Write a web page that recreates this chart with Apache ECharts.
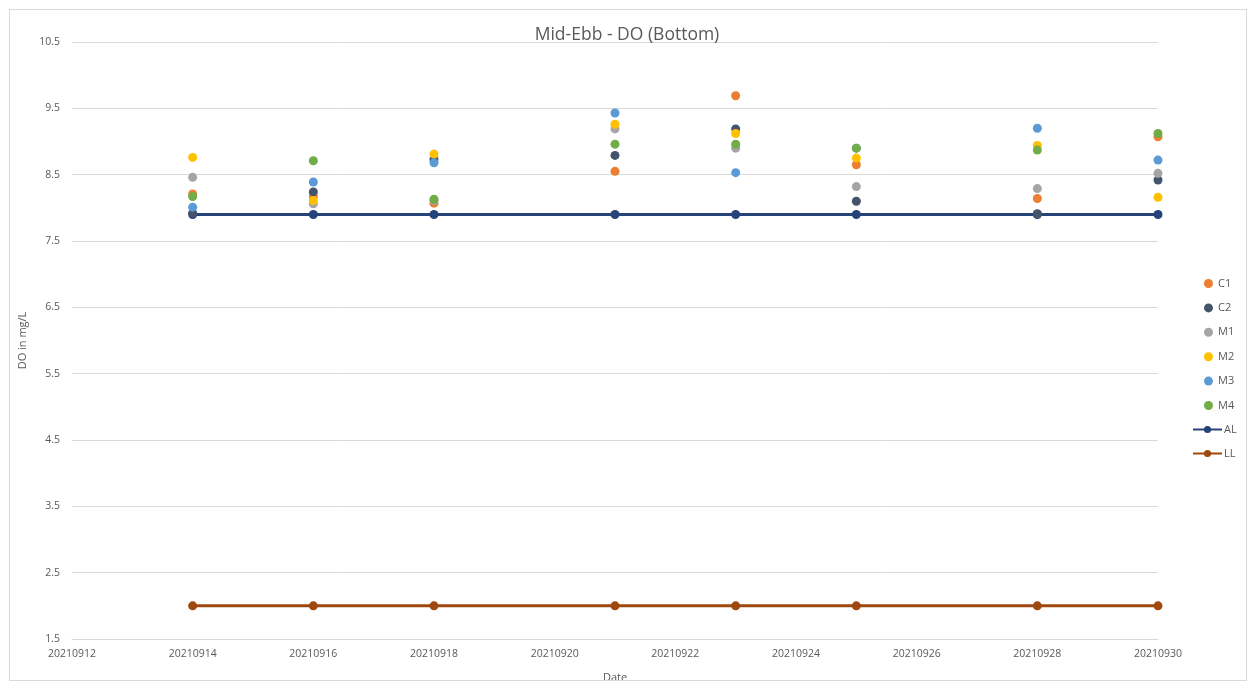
<!DOCTYPE html>
<html><head><meta charset="utf-8">
<script src="https://cdn.jsdelivr.net/npm/echarts@6/dist/echarts.min.js"></script>
<style>html,body{margin:0;padding:0;background:#fff}#c{width:1254px;height:688px}</style>
</head><body><div id="c"></div>
<script>
const dates = [20210914, 20210916, 20210918, 20210921, 20210923, 20210925, 20210928, 20210930];
const C1 = [8.21, 8.17, 8.07, 8.55, 9.69, 8.65, 8.14, 9.07];
const C2 = [7.92, 8.24, 8.73, 8.79, 9.19, 8.10, 7.91, 8.42];
const M1 = [8.46, 8.06, 8.11, 9.19, 8.90, 8.32, 8.29, 8.52];
const M2 = [8.76, 8.11, 8.81, 9.26, 9.12, 8.75, 8.94, 8.16];
const M3 = [8.01, 8.39, 8.68, 9.43, 8.53, 8.90, 9.20, 8.72];
const M4 = [8.17, 8.71, 8.13, 8.96, 8.96, 8.90, 8.87, 9.12];
const AL = [7.9, 7.9, 7.9, 7.9, 7.9, 7.9, 7.9, 7.9];
const LL = [2, 2, 2, 2, 2, 2, 2, 2];
const xTicks = {min: 20210912, max: 20210930, interval: 2};
const yTicks = {min: 1.5, max: 10.5, interval: 1};

const pts = v => dates.map((d, i) => [d, v[i]]);
const txt = '#595959';
const scat = (name, v, color) => ({
  name, type: 'scatter', data: pts(v), symbolSize: 9,
  itemStyle: {color, opacity: 1}, z: 3
});
const line = (name, v, color) => ({
  name, type: 'line', data: pts(v), symbol: 'circle', symbolSize: 9,
  lineStyle: {color, width: 3}, itemStyle: {color}, z: 2
});
const chart = echarts.init(document.getElementById('c'));
chart.setOption({
  animation: false,
  backgroundColor: '#fff',
  title: {text: 'Mid-Ebb - DO (Bottom)', left: 'center', top: 21,
    textStyle: {color: txt, fontSize: 17.5, fontWeight: 'normal', fontFamily: 'Open Sans'}},
  grid: {left: 72, right: 96, top: 42, bottom: 48},
  legend: [{
    data: ['C1','C2','M1','M2','M3','M4'], orient: 'vertical', left: 1199, top: 271,
    icon: 'circle', itemWidth: 9, itemHeight: 9, itemGap: 9.4,
    textStyle: {color: txt, fontSize: 11, fontFamily: 'Open Sans', lineHeight: 15}
  },{
    data: ['AL','LL'], orient: 'vertical', left: 1187, top: 417,
    itemWidth: 29, itemHeight: 9, itemGap: 9.0, itemStyle: {},
    textStyle: {color: txt, fontSize: 11, fontFamily: 'Open Sans', lineHeight: 15, padding: [0,0,0,-3]}
  }],
  xAxis: {
    type: 'value', min: xTicks.min, max: xTicks.max, interval: xTicks.interval,
    name: 'Date', nameLocation: 'middle', nameGap: 33,
    nameTextStyle: {color: txt, fontSize: 11, fontFamily: 'Open Sans'},
    axisLine: {show: true, lineStyle: {color: '#d9d9d9'}}, axisTick: {show: false},
    splitLine: {show: false},
    axisLabel: {color: txt, fontSize: 10.5, fontFamily: 'Open Sans', margin: 10, formatter: v => String(v)}
  },
  yAxis: {
    type: 'value', min: yTicks.min, max: yTicks.max, interval: yTicks.interval,
    name: 'DO in mg/L', nameLocation: 'middle', nameGap: 41,
    nameTextStyle: {color: txt, fontSize: 11, fontFamily: 'Open Sans'},
    axisLine: {show: false}, axisTick: {show: false},
    splitLine: {lineStyle: {color: '#d9d9d9', width: 1}},
    axisLabel: {color: txt, fontSize: 10.5, fontFamily: 'Open Sans', margin: 12, formatter: v => v.toFixed(1)}
  },
  series: [
    scat('C1', C1, '#ED7D31'),
    scat('C2', C2, '#44546A'),
    scat('M1', M1, '#A5A5A5'),
    scat('M2', M2, '#FFC000'),
    scat('M3', M3, '#5B9BD5'),
    scat('M4', M4, '#70AD47'),
    line('AL', AL, '#264478'),
    line('LL', LL, '#9E480E')
  ]
});
</script>
<div style="position:absolute;left:9px;top:9px;width:1236px;height:670px;border:1px solid #d9d9d9;pointer-events:none"></div>
</body></html>
